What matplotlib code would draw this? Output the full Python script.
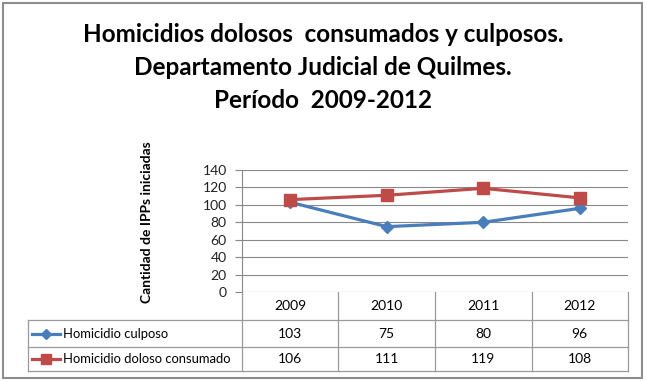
import matplotlib
matplotlib.use("Agg")
import matplotlib.pyplot as plt
from matplotlib import transforms
from matplotlib.lines import Line2D
from matplotlib.patches import Rectangle

plt.rcParams['font.family'] = ['Lato', 'DejaVu Sans']

years = ["2009", "2010", "2011", "2012"]
culposo = [103, 75, 80, 96]
doloso = [106, 111, 119, 108]
series_names = ["Homicidio culposo", "Homicidio doloso consumado"]
title_lines = ["Homicidios dolosos  consumados y culposos.",
               "Departamento Judicial de Quilmes.",
               "Período  2009-2012"]
ylabel = "Cantidad de IPPs iniciadas"
yticks = [0, 20, 40, 60, 80, 100, 120, 140]

W, H = 647, 382
fig = plt.figure(figsize=(W / 100, H / 100), dpi=100)

def fx(x):
    return x / W

def fy(y):
    return 1 - y / H

BLUE = "#4A7EBB"
RED = "#BE4B48"
GRID = "#888888"

# outer border
fig.add_artist(Rectangle((fx(3), fy(378)), fx(639), (375) / H, transform=fig.transFigure,
                         fill=False, edgecolor="#8c8c8c", lw=1.5))

# title
for i, t in enumerate(title_lines):
    fig.text(fx(323), fy(34 + i * 33.5), t, ha="center", va="center",
             fontsize=17.5, fontweight="bold", color="black")

# main axes
L, R, T, B = 242, 628, 170, 292
ax = fig.add_axes([fx(L), fy(B), (R - L) / W, (B - T) / H])
x = list(range(len(years)))
ax.plot(x, culposo, color=BLUE, lw=2.3, marker="D", ms=6.5, mfc=BLUE, mec=BLUE, zorder=3)
ax.plot(x, doloso, color=RED, lw=2.3, marker="s", ms=8, mfc=RED, mec=RED, zorder=4)
ax.set_xlim(-0.5, len(years) - 0.5)
ax.set_ylim(0, 140)
ax.set_yticks(yticks)
ax.set_yticklabels([str(v) for v in yticks], fontsize=10, color="#222222")
ax.set_xticks([])
ax.grid(axis="y", color=GRID, lw=0.8)
ax.set_axisbelow(True)
for s in ["top", "right", "bottom"]:
    ax.spines[s].set_visible(False)
ax.spines["left"].set_color(GRID)
ax.spines["left"].set_linewidth(0.8)
ax.tick_params(axis="y", length=5, color=GRID, width=0.8, pad=6)

# y label
fig.text(fx(147), fy(222), ylabel, rotation=90, ha="center", va="center",
         fontsize=10, fontweight="bold")

# table
tr = transforms.blended_transform_factory(ax.transData, fig.transFigure)
lc = "#9a9a9a"
row_y = [292, 320, 347, 371]
TL = 28
def hline(x0, x1, y):
    fig.add_artist(Line2D([fx(x0), fx(x1)], [fy(y), fy(y)], transform=fig.transFigure,
                          color=lc, lw=0.9))
def vline(xp, y0, y1):
    fig.add_artist(Line2D([fx(xp), fx(xp)], [fy(y0), fy(y1)], transform=fig.transFigure,
                          color=lc, lw=0.9))

hline(TL, R, row_y[1])
hline(TL, R, row_y[2])
hline(TL, R, row_y[3])
vline(TL, row_y[1], row_y[3])
vline(R, row_y[0], row_y[3])
vline(L, row_y[0], row_y[3])
for i in range(1, len(years)):
    xp = L + i * (R - L) / len(years)
    vline(xp, row_y[0], row_y[3])

for i, yv in enumerate(years):
    fig.text(i, fy((row_y[0] + row_y[1]) / 2), yv, transform=tr, ha="center", va="center", fontsize=10)
for vals, ri in [(culposo, 1), (doloso, 2)]:
    yc = fy((row_y[ri] + row_y[ri + 1]) / 2)
    for i, v in enumerate(vals):
        fig.text(i, yc, str(v), transform=tr, ha="center", va="center", fontsize=10)

# legend cells
for name, col, mk, ms, ri in [(series_names[0], BLUE, "D", 5.5, 1), (series_names[1], RED, "s", 7, 2)]:
    yc = fy((row_y[ri] + row_y[ri + 1]) / 2)
    fig.add_artist(Line2D([fx(32), fx(60)], [yc, yc], transform=fig.transFigure, color=col, lw=2.3))
    fig.add_artist(Line2D([fx(46)], [yc], transform=fig.transFigure, color=col, marker=mk,
                          ms=ms, mfc=col, mec=col))
    fig.text(fx(63), yc, name, ha="left", va="center", fontsize=9.4)

fig.savefig("out.png", dpi=100)
